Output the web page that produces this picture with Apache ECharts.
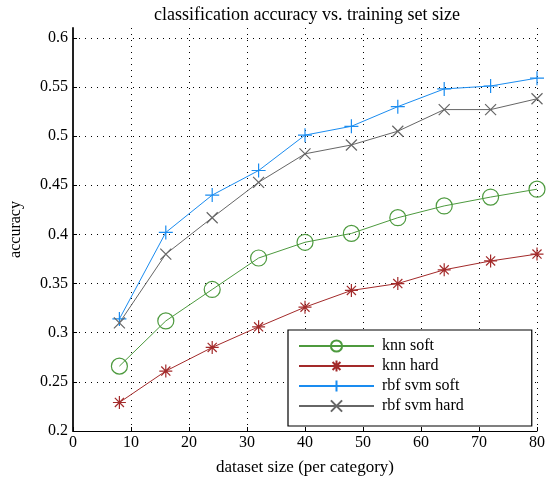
<!DOCTYPE html>
<html>
<head>
<meta charset="utf-8">
<script src="https://cdn.jsdelivr.net/npm/echarts@6/dist/echarts.min.js"></script>
<style>
html, body { margin: 0; padding: 0; background: #fff; }
#chart { width: 549px; height: 482px; }
</style>
</head>
<body>
<div id="chart"></div>
<script>
// training set sizes (per category)
var sizes = [8, 16, 24, 32, 40, 48, 56, 64, 72, 80]
var knnSoft = [0.266, 0.312, 0.344, 0.376, 0.392, 0.401, 0.417, 0.429, 0.438, 0.446]
var knnHard = [0.229, 0.261, 0.285, 0.306, 0.326, 0.343, 0.350, 0.364, 0.373, 0.380]
var svmSoft = [0.314, 0.402, 0.440, 0.465, 0.501, 0.510, 0.530, 0.548, 0.551, 0.559]
var svmHard = [0.310, 0.380, 0.417, 0.453, 0.482, 0.491, 0.505, 0.527, 0.527, 0.538]
var seriesNames = ['knn soft', 'knn hard', 'rbf svm soft', 'rbf svm hard']

var serif = '"Liberation Serif", "DejaVu Serif", serif'

var plusPath = 'path://M5,0L5,10M0,5L10,5'
var crossPath = 'path://M0,0L10,10M0,10L10,0'
var starPath = 'path://M5,0L5,10M0,5L10,5M1.5,1.5L8.5,8.5M1.5,8.5L8.5,1.5'

function pairs(vals) {
  return sizes.map(function(x, i) { return [x, vals[i]] })
}

function makeSeries(name, vals, color, symbol, size) {
  return {
    name: name,
    type: 'line',
    data: pairs(vals),
    symbol: symbol,
    symbolSize: size,
    showAllSymbol: true,
    lineStyle: { color: color, width: 1 },
    itemStyle: { color: symbol === 'circle' ? 'rgba(0,0,0,0)' : color, borderColor: color, borderWidth: 1.2 },
    emphasis: { disabled: true },
    animation: false
  }
}

var chart = echarts.init(document.getElementById('chart'))
chart.setOption({
  backgroundColor: '#fff',
  title: {
    text: 'classification accuracy vs. training set size',
    left: 302,
    textAlign: 'center',
    top: 1,
    textStyle: { fontFamily: serif, fontSize: 18, fontWeight: 'normal', color: '#000' }
  },
  legend: {
    orient: 'vertical',
    left: 288,
    top: 330,
    data: seriesNames,
    itemWidth: 75,
    itemHeight: 14,
    itemGap: 4,
    padding: [8, 68, 12, 10],
    backgroundColor: '#fff',
    borderColor: '#000',
    borderWidth: 1.2,
    textStyle: { fontFamily: serif, fontSize: 16, color: '#000', padding: [0, 0, 0, 3] }
  },
  grid: { left: 68, right: 12, top: 28, bottom: 51 },
  xAxis: {
    type: 'value',
    min: 0,
    max: 80,
    interval: 10,
    name: 'dataset size (per category)',
    nameLocation: 'middle',
    nameGap: 28,
    nameTextStyle: { fontFamily: serif, fontSize: 17, color: '#000' },
    axisLine: { onZero: false, lineStyle: { color: '#000', width: 1 } },
    axisTick: { inside: true, length: 4, lineStyle: { color: '#000' } },
    axisLabel: { fontFamily: serif, fontSize: 16, color: '#000', margin: 4 },
    splitLine: { show: true, showMinLine: false, lineStyle: { color: '#000', type: [1, 5], width: 1 } }
  },
  yAxis: {
    type: 'value',
    min: 0.2,
    max: 0.61,
    interval: 0.05,
    name: 'accuracy',
    nameLocation: 'middle',
    nameGap: 49,
    nameTextStyle: { fontFamily: serif, fontSize: 16, color: '#000' },
    axisLine: { show: true, onZero: false, lineStyle: { color: '#222', width: 2 } },
    axisTick: { inside: true, length: 4, lineStyle: { color: '#000' } },
    axisLabel: {
      fontFamily: serif, fontSize: 16, color: '#000', margin: 5, showMaxLabel: false,
      formatter: function(v) { return String(Math.round(v * 100) / 100) }
    },
    splitLine: { show: true, showMinLine: false, showMaxLine: false, lineStyle: { color: '#000', type: [1, 5], width: 1 } }
  },
  series: [
    makeSeries('knn soft', knnSoft, '#4d9a3e', 'circle', 16),
    makeSeries('knn hard', knnHard, '#a32a2a', starPath, 13),
    makeSeries('rbf svm soft', svmSoft, '#1a8cf0', plusPath, 14),
    makeSeries('rbf svm hard', svmHard, '#666666', crossPath, 11)
  ]
})
</script>
</body>
</html>
